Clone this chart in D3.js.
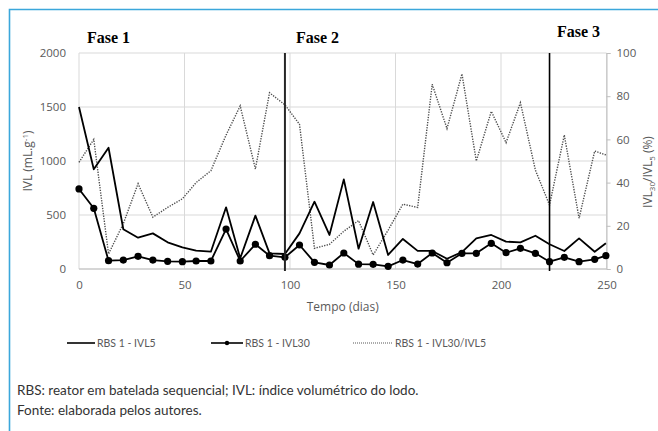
<!DOCTYPE html>
<html><head><meta charset="utf-8">
<script src="https://cdn.jsdelivr.net/npm/d3@7"></script>
<style>html,body{margin:0;padding:0;background:#fff;}svg{display:block;}</style>
</head><body>
<script>
const days = [0,7,14,21,28,35,42,49,55.5,62.5,69.7,76.4,83.6,90.3,97.6,104.5,111.6,118.7,125.5,132.5,139.4,146.5,153.5,160.5,167.4,174.4,181.5,188.3,195.4,202.4,209.2,216.3,223,230,237,244.4,249.7];
const ivl5 = [1500,923,1123,368,290,330,247,200,170,160,571,99,494,145,139,330,623,315,830,188,620,130,278,168,167,95,157,284,315,253,247,308,229,167,284,160,238];
const ivl30 = [741,562,77,83,117,83,71,68,74,74,370,74,229,123,108,222,62,37,148,45,43,25,83,46,148,58,145,145,238,151,191,145,68,108,68,90,123];
const ratio = [49.4,60,7,21,39.5,24,28.5,32.5,40,45.5,62,75.5,46.3,81.6,76,67,9.6,11.4,17.5,22.4,6.5,18,30,28.5,85.5,65,90.3,50,73,58.5,77,45.8,29.6,62,23.5,54.6,52.8];
const phaseDays = [97.6, 223];
const phaseLabels = ["Fase 1","Fase 2","Fase 3"];
const xTicks = [0,50,100,150,200,250];
const yLeftTicks = [0,500,1000,1500,2000];
const yRightTicks = [0,20,40,60,80,100];
const legendLabels = ["RBS 1 - IVL5","RBS 1 - IVL30","RBS 1 - IVL30/IVL5"];
const notes = ["RBS: reator em batelada sequencial; IVL: índice volumétrico do lodo.","Fonte: elaborada pelos autores."];

const W = 658, H = 431;
const svg = d3.select("body").append("svg").attr("width", W).attr("height", H);
svg.append("rect").attr("width", W).attr("height", H).attr("fill", "#fff");

// frame
svg.append("path").attr("d", `M9.5,${H} L9.5,9.5 L${W},9.5`).attr("fill","none").attr("stroke","#3ba7db").attr("stroke-width",1.6);

const x = d3.scaleLinear().domain([0,250]).range([79,606.5]);
const yL = d3.scaleLinear().domain([0,2000]).range([269,53]);
const yR = d3.scaleLinear().domain([0,100]).range([269,53]);
const grey = "#595959";
const tickFont = "'Open Sans', sans-serif";

// gridlines
const g = svg.append("g");
g.selectAll(".hg").data(yLeftTicks).join("line")
  .attr("x1", x(0)).attr("x2", x(250)).attr("y1", d=>yL(d)).attr("y2", d=>yL(d))
  .attr("stroke", "#d9d9d9").attr("stroke-width", 1);
g.selectAll(".vg").data(xTicks).join("line")
  .attr("x1", d=>x(d)).attr("x2", d=>x(d)).attr("y1", yL(0)).attr("y2", yL(2000))
  .attr("stroke", "#d9d9d9").attr("stroke-width", 1);

// bottom axis line
svg.append("line").attr("x1", x(0)).attr("x2", x(250)).attr("y1", yL(0)).attr("y2", yL(0))
  .attr("stroke", "#bfbfbf").attr("stroke-width", 1.2);
// right axis
const rAxis = d3.axisRight(yR).tickValues(yRightTicks).tickSize(4).tickPadding(6);
const ra = svg.append("g").attr("transform", `translate(${x(250)},0)`).call(rAxis);
ra.select(".domain").attr("stroke", "#bfbfbf");
ra.selectAll(".tick line").attr("stroke", "#bfbfbf");
ra.selectAll("text").attr("fill", grey).style("font-family", tickFont).style("font-size", "11.5px");

// left axis labels
const la = svg.append("g").attr("transform", `translate(${x(0)},0)`)
  .call(d3.axisLeft(yL).tickValues(yLeftTicks).tickFormat(d3.format("d")).tickSize(0).tickPadding(13));
la.select(".domain").remove();
la.selectAll("text").attr("fill", grey).style("font-family", tickFont).style("font-size", "11.5px");

// bottom axis labels
const ba = svg.append("g").attr("transform", `translate(0,${yL(0)})`)
  .call(d3.axisBottom(x).tickValues(xTicks).tickSize(0).tickPadding(12));
ba.select(".domain").remove();
ba.selectAll("text").attr("fill", grey).style("font-family", tickFont).style("font-size", "11.5px");

// axis titles
svg.append("text").attr("x", (x(0)+x(250))/2).attr("y", 311).attr("text-anchor","middle")
  .attr("fill", grey).style("font-family", tickFont).style("font-size","12px").text("Tempo (dias)");
const lt = svg.append("text").attr("transform", `translate(32,161) rotate(-90)`).attr("text-anchor","middle")
  .attr("fill", grey).style("font-family", tickFont).style("font-size","12px");
lt.append("tspan").text("IVL (mL.g");
lt.append("tspan").attr("dy","-4").style("font-size","8px").text("-1");
lt.append("tspan").attr("dy","4").text(")");
const rt = svg.append("text").attr("transform", `translate(652,172) rotate(-90)`).attr("text-anchor","middle")
  .attr("fill", grey).style("font-family", tickFont).style("font-size","12px");
rt.append("tspan").text("IVL");
rt.append("tspan").attr("dy","2.5").style("font-size","8px").text("30");
rt.append("tspan").attr("dy","-2.5").text("/IVL");
rt.append("tspan").attr("dy","2.5").style("font-size","8px").text("5");
rt.append("tspan").attr("dy","-2.5").text(" (%)");

// series
const pts = days.map((d,i)=>({d, a:ivl5[i], b:ivl30[i], r:ratio[i]}));
const plot = svg.append("g");
plot.append("path").datum(pts).attr("fill","none").attr("stroke","#4d4d4d").attr("stroke-width",1.4)
  .attr("stroke-dasharray","1.3,1.3")
  .attr("d", d3.line().x(p=>x(p.d)).y(p=>yR(p.r)));
plot.append("path").datum(pts).attr("fill","none").attr("stroke","#000").attr("stroke-width",1.8)
  .attr("stroke-linejoin","round")
  .attr("d", d3.line().x(p=>x(p.d)).y(p=>yL(p.a)));
plot.append("path").datum(pts).attr("fill","none").attr("stroke","#000").attr("stroke-width",1.8)
  .attr("stroke-linejoin","round")
  .attr("d", d3.line().x(p=>x(p.d)).y(p=>yL(p.b)));
plot.selectAll(".dot").data(pts).join("circle")
  .attr("cx", p=>x(p.d)).attr("cy", p=>yL(p.b)).attr("r", 3.6).attr("fill","#000");

// phase lines
svg.selectAll(".ph").data(phaseDays).join("line")
  .attr("x1", d=>x(d)).attr("x2", d=>x(d)).attr("y1", yL(2000)).attr("y2", yL(0)+2)
  .attr("stroke", (d,i)=> i===0 ? "#262626" : "#000").attr("stroke-width", (d,i)=> i===0 ? 2 : 1.6);

// phase labels
const phasePos = [[87,43],[296,43],[557,36.5]];
svg.selectAll(".pl").data(phaseLabels).join("text")
  .attr("x", (d,i)=>phasePos[i][0]).attr("y", (d,i)=>phasePos[i][1])
  .style("font-family","'Liberation Serif', 'Times New Roman', serif").style("font-weight","bold").style("font-size","16px")
  .attr("fill","#000").text(d=>d);

// legend
const legY = 343;
const lg = svg.append("g");
lg.append("line").attr("x1",67).attr("x2",95).attr("y1",legY).attr("y2",legY).attr("stroke","#000").attr("stroke-width",1.6);
lg.append("line").attr("x1",211).attr("x2",243).attr("y1",legY).attr("y2",legY).attr("stroke","#000").attr("stroke-width",1.6);
lg.append("circle").attr("cx",227).attr("cy",legY).attr("r",2.2).attr("fill","#000");
lg.append("line").attr("x1",353).attr("x2",392).attr("y1",legY).attr("y2",legY).attr("stroke","#595959").attr("stroke-width",1.2).attr("stroke-dasharray","1,1");
const legX = [97,245,395];
lg.selectAll(".lt").data(legendLabels).join("text")
  .attr("x",(d,i)=>legX[i]).attr("y",legY+3.5)
  .attr("fill",grey).style("font-family","Lato, sans-serif").style("font-size","10.5px").text(d=>d);

// notes
svg.selectAll(".nt").data(notes).join("text")
  .attr("x",17).attr("y",(d,i)=>395+i*20)
  .attr("fill","#333").style("font-family","Lato, sans-serif").style("font-size","13.5px").text(d=>d);
</script>
</body></html>
